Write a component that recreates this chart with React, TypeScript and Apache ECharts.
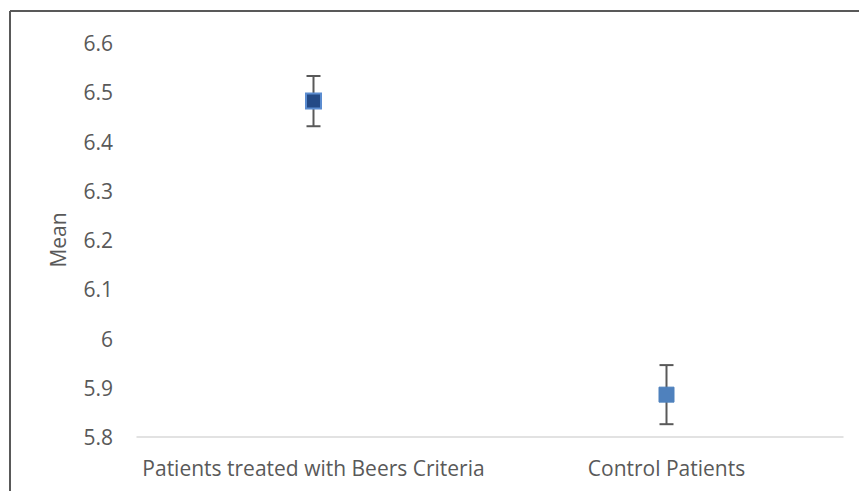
import React, { useEffect, useRef } from "react";
import * as echarts from "echarts";

const categories = ["Patients treated with Beers Criteria", "Control Patients"];
const means = [6.482, 5.886];
const errors = [0.051, 0.06];
const yTicks = { min: 5.8, max: 6.6, interval: 0.1 };
const yTitle = "Mean";

export default function App() {
  const ref = useRef<HTMLDivElement>(null);
  useEffect(() => {
    if (!ref.current) return;
    const chart = echarts.init(ref.current, null, { renderer: "svg" });
    const font = "Open Sans";
    const option: any = {
      animation: false,
      backgroundColor: "#ffffff",
      grid: { left: 137, right: 16, top: 43, bottom: 54, containLabel: false },
      xAxis: {
        type: "category",
        data: categories,
        boundaryGap: true,
        axisLine: { show: true, lineStyle: { color: "#D9D9D9", width: 1.5 } },
        axisTick: { show: false },
        axisLabel: {
          color: "#595959",
          fontFamily: font,
          fontSize: 21,
          margin: 20,
          interval: 0,
          hideOverlap: false,
        },
      },
      yAxis: {
        type: "value",
        min: yTicks.min,
        max: yTicks.max,
        interval: yTicks.interval,
        name: yTitle,
        nameLocation: "middle",
        nameGap: 69,
        nameRotate: 90,
        nameTextStyle: { color: "#595959", fontFamily: font, fontSize: 21 },
        axisLine: { show: false },
        axisTick: { show: false },
        splitLine: { show: false },
        axisLabel: {
          color: "#595959",
          fontFamily: font,
          fontSize: 21,
          margin: 24,
          formatter: (v: number) => {
            const s = v.toFixed(1);
            return s.endsWith(".0") ? s.slice(0, -2) : s;
          },
        },
      },
      series: [
        {
          type: "custom",
          z: 1,
          renderItem: (params: any, api: any) => {
            const x = api.value(0);
            const m = api.value(1);
            const e = api.value(2);
            const top = api.coord([x, m + e]);
            const bot = api.coord([x, m - e]);
            const cw = 7;
            const style = { stroke: "#595959", lineWidth: 2 };
            return {
              type: "group",
              children: [
                { type: "line", shape: { x1: top[0], y1: top[1], x2: bot[0], y2: bot[1] }, style },
                { type: "line", shape: { x1: top[0] - cw, y1: top[1], x2: top[0] + cw, y2: top[1] }, style },
                { type: "line", shape: { x1: bot[0] - cw, y1: bot[1], x2: bot[0] + cw, y2: bot[1] }, style },
              ],
            };
          },
          data: means.map((m, i) => [i, m, errors[i]]),
        },
        {
          type: "scatter",
          z: 2,
          symbol: "rect",
          symbolSize: 15,
          itemStyle: { opacity: 1 },
          data: [
            { value: [0, means[0]], itemStyle: { color: "#244A86", borderColor: "#5B8CD0", borderWidth: 2, opacity: 1 } },
            { value: [1, means[1]], itemStyle: { color: "#4F81BD", borderColor: "#4F81BD", borderWidth: 1, opacity: 1 } },
          ],
        },
      ],
      graphic: [
        { type: "line", shape: { x1: 10, y1: 11, x2: 859, y2: 11 }, style: { stroke: "#595959", lineWidth: 2 } },
        { type: "line", shape: { x1: 10, y1: 11, x2: 10, y2: 491 }, style: { stroke: "#595959", lineWidth: 2 } },
      ],
    };
    chart.setOption(option);
    return () => chart.dispose();
  }, []);
  return (
    <div
      ref={ref}
      style={{ position: "fixed", left: 0, top: 0, width: 859, height: 491 }}
    />
  );
}
